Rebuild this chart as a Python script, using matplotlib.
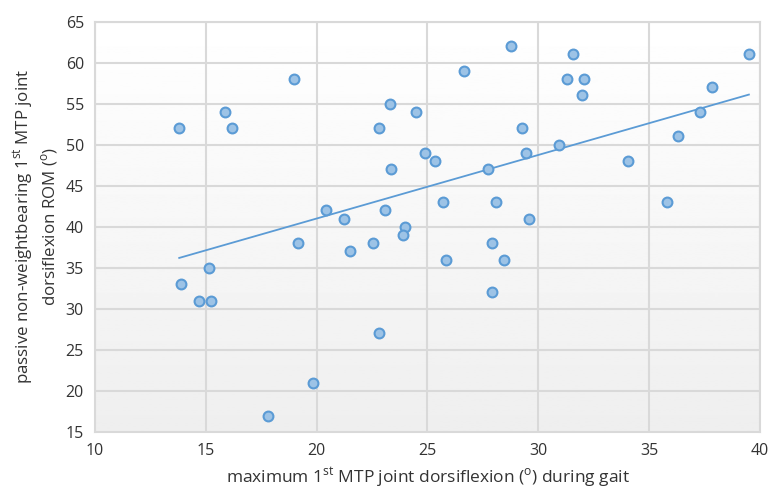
import numpy as np
import matplotlib.pyplot as plt

# max 1st MTP dorsiflexion during gait (deg)
gait_df = [13.8, 13.9, 14.7, 15.25, 15.15, 15.85, 16.2, 17.8, 19.0, 19.15,
           19.85, 20.4, 21.25, 21.5, 22.55, 22.8, 22.8, 23.1, 23.3, 23.35,
           24.0, 23.9, 24.5, 24.9, 25.35, 25.7, 25.85, 26.65, 27.75, 27.9,
           27.9, 28.1, 28.45, 28.75, 29.25, 29.45, 29.6, 30.95, 31.3, 31.55,
           31.95, 32.05, 34.05, 35.8, 36.3, 37.3, 37.85, 39.5]
# passive non-weightbearing ROM (deg)
passive_rom = [52, 33, 31, 31, 35, 54, 52, 17, 58, 38,
               21, 42, 41, 37, 38, 52, 27, 42, 55, 47,
               40, 39, 54, 49, 48, 43, 36, 59, 47, 32,
               38, 43, 36, 62, 52, 49, 41, 50, 58, 61,
               56, 58, 48, 43, 51, 54, 57, 61]

x_ticks = [10, 15, 20, 25, 30, 35, 40]
y_ticks = [15, 20, 25, 30, 35, 40, 45, 50, 55, 60, 65]

plt.rcParams['font.family'] = ['Open Sans', 'DejaVu Sans']
plt.rcParams['mathtext.fontset'] = 'custom'
plt.rcParams['mathtext.rm'] = 'Open Sans'

fig, ax = plt.subplots(figsize=(7.71, 4.92), dpi=100)
fig.subplots_adjust(left=0.1232, right=0.9857, top=0.9563, bottom=0.122)

# soft vertical gradient behind the plot
grad = np.linspace(1.0, 0.935, 256).reshape(-1, 1)
ax.imshow(grad, cmap='gray', vmin=0, vmax=1, aspect='auto',
          extent=[0, 1, 0, 1], transform=ax.transAxes, zorder=0)

ax.set_xlim(10, 40)
ax.set_ylim(15, 65)
ax.set_xticks(x_ticks)
ax.set_yticks(y_ticks)
ax.grid(True, color='#d9d9d9', linewidth=1.5, zorder=1)
ax.tick_params(length=0, labelsize=11.5, colors='#333333', pad=8)
for sp in ax.spines.values():
    sp.set_color('#d9d9d9')
    sp.set_linewidth(1.5)

ax.scatter(gait_df, passive_rom, s=50, facecolor='#9dc3e6',
           edgecolor='#5b9bd5', linewidth=1.5, zorder=3)

# linear trend line
xs = np.array(gait_df)
k, b = np.polyfit(xs, np.array(passive_rom), 1)
xl = np.array([xs.min(), xs.max()])
ax.plot(xl, k * xl + b, color='#5b9bd5', linewidth=1.3, zorder=2)

ax.set_xlabel('maximum 1$^{\\mathrm{st}}$ MTP joint dorsiflexion ($^{\\mathrm{o}}$) during gait',
              fontsize=12.5, color='#333333', labelpad=5)
ax.set_ylabel('passive non-weightbearing 1$^{\\mathrm{st}}$ MTP joint\n'
              'dorsiflexion ROM ($^{\\mathrm{o}}$)',
              fontsize=12.2, color='#333333', labelpad=4)

fig.savefig('out.png', dpi=100)
